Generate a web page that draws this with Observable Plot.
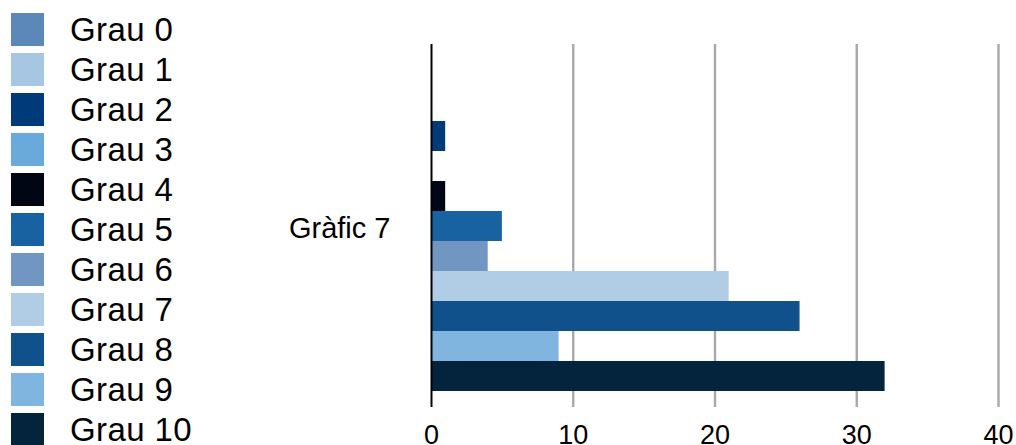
<!DOCTYPE html>
<html>
<head>
<meta charset="utf-8">
<script src="https://cdn.jsdelivr.net/npm/d3@7"></script>
<script src="https://cdn.jsdelivr.net/npm/@observablehq/plot@0.6"></script>
<style>
  html, body { margin: 0; padding: 0; background: #fff; }
  #wrap { position: relative; width: 1016px; height: 445px; overflow: hidden; font-family: "Liberation Sans", Helvetica, Arial, sans-serif; }
  #legend { position: absolute; left: 11px; top: 13px; }
  .row { position: relative; height: 40px; }
  .sw { position: absolute; left: 0; top: 0; width: 33px; height: 33px; }
  .lb { position: absolute; left: 59px; top: -2px; font-size: 33px; letter-spacing: 0.4px; line-height: 37px; color: #000; white-space: nowrap; }
  #chart { position: absolute; left: 0; top: 0; }
</style>
</head>
<body>
<div id="wrap">
  <div id="chart"></div>
  <div id="legend"></div>
</div>
<script>
const category = "Gràfic 7";
const series = ["Grau 0","Grau 1","Grau 2","Grau 3","Grau 4","Grau 5","Grau 6","Grau 7","Grau 8","Grau 9","Grau 10"];
const values = [0, 0, 1, 0, 1, 5, 4, 21, 26, 9, 32];
const colors = ["#5b87b9","#a6c6e1","#013a79","#6aaadb","#000613","#1862a1","#7196c1","#b1cde5","#10508b","#80b5e0","#04233c"];
const xTicks = [0, 10, 20, 30, 40];

const data = series.map((s, i) => ({series: s, value: values[i], category}));

const chart = Plot.plot({
  width: 1016,
  height: 445,
  marginLeft: 431,
  marginRight: 18,
  marginTop: 44,
  marginBottom: 38,
  style: {fontFamily: '"Liberation Sans", Helvetica, Arial, sans-serif', fontSize: "27px", color: "#000", background: "transparent", overflow: "visible"},
  x: {domain: [0, 40], label: null},
  y: {type: "band", domain: series, paddingInner: 0, paddingOuter: 0.48, axis: null},
  color: {domain: series, range: colors},
  marks: [
    Plot.gridX(xTicks.slice(1), {stroke: "#a8a8a8", strokeWidth: 2.4, strokeOpacity: 1}),
    Plot.barX(data, {x: "value", y: "series", fill: "series"}),
    Plot.ruleX([0], {stroke: "#000", strokeWidth: 2}),
    Plot.axisX({ticks: xTicks, tickSize: 0, tickPadding: 17, fontSize: 27, label: null}),
    Plot.text([category], {text: d => d, frameAnchor: "left", dx: -41, dy: 3, textAnchor: "end", fontSize: 29, fill: "#000"})
  ]
});
document.getElementById("chart").appendChild(chart);

const legend = document.getElementById("legend");
series.forEach((s, i) => {
  const row = document.createElement("div");
  row.className = "row";
  const sw = document.createElement("div");
  sw.className = "sw";
  sw.style.background = colors[i];
  const lb = document.createElement("div");
  lb.className = "lb";
  lb.textContent = s;
  row.appendChild(sw);
  row.appendChild(lb);
  legend.appendChild(row);
});
</script>
</body>
</html>
